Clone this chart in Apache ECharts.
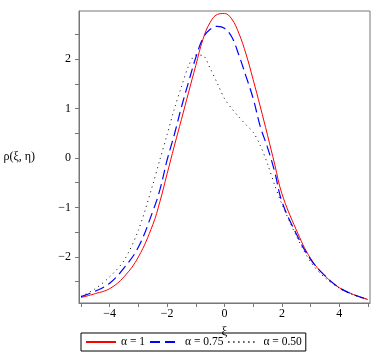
<!DOCTYPE html>
<html>
<head>
<meta charset="utf-8">
<script src="https://cdn.jsdelivr.net/npm/echarts@6/dist/echarts.min.js"></script>
<style>
  html, body { margin: 0; padding: 0; background: #fff; }
  #chart { width: 389px; height: 360px; }
</style>
</head>
<body>
<div id="chart"></div>
<script>
// xi grid shared by all three curves
var xiValues = [-5, -4.5, -4, -3.5, -3, -2.5, -2.25, -2, -1.75, -1.5, -1.25, -1, -0.75, -0.5, -0.25,
                0, 0.25, 0.5, 0.75, 1, 1.25, 1.5, 1.75, 2, 2.5, 3, 3.5, 4, 4.5, 5];
var rhoAlpha100 = [-2.82, -2.74, -2.64, -2.40, -2.00, -1.35, -0.88, -0.32, 0.24, 0.78, 1.33, 1.87, 2.40, 2.74, 2.90,
                   2.92, 2.81, 2.52, 2.10, 1.58, 1.03, 0.46, -0.13, -0.72, -1.45, -2.03, -2.38, -2.62, -2.76, -2.86];
var rhoAlpha075 = [-2.80, -2.69, -2.53, -2.22, -1.80, -1.08, -0.64, -0.04, 0.47, 1.03, 1.54, 2.03, 2.42, 2.60, 2.66,
                   2.62, 2.45, 2.08, 1.65, 1.20, 0.63, 0.21, -0.28, -0.88, -1.53, -2.05, -2.38, -2.62, -2.76, -2.86];
var rhoAlpha050 = [-2.80, -2.64, -2.40, -2.07, -1.46, -0.54, -0.03, 0.47, 0.99, 1.44, 1.86, 2.08, 2.07, 1.81, 1.51,
                   1.20, 1.00, 0.83, 0.67, 0.52, 0.25, -0.12, -0.55, -0.93, -1.57, -2.10, -2.42, -2.63, -2.77, -2.86];

var xTickValues = [-5, -4, -3, -2, -1, 0, 1, 2, 3, 4, 5];
var xLabelValues = [-4, -2, 0, 2, 4];
var yTickValues = [-2.5, -2, -1.5, -1, -0.5, 0, 0.5, 1, 1.5, 2, 2.5];
var yLabelValues = [-2, -1, 0, 1, 2];

function pairs(xs, ys) {
    var out = [];
    for (var i = 0; i < xs.length; i++) {
        out.push([xs[i], ys[i]]);
    }
    return out;
}

function minusLabel(v) {
    return v < 0 ? "\u2212" + (-v) : "" + v;
}

var FONT = "Liberation Serif";
var AXIS_COLOR = "#777777";

var chart = echarts.init(document.getElementById("chart"));
var option = {
    animation: false,
    backgroundColor: "#ffffff",
    textStyle: { fontFamily: FONT },
    grid: {
        left: 79,
        right: 19,
        top: 11,
        bottom: 57,
        show: true,
        borderColor: AXIS_COLOR,
        borderWidth: 1
    },
    legend: {
        left: 81,
        top: 333,
        orient: "horizontal",
        itemWidth: 30,
        itemHeight: 10,
        itemGap: 4,
        padding: [3, 4, 3, 4],
        borderColor: "#000000",
        borderWidth: 1,
        itemStyle: { opacity: 0 },
        textStyle: { fontFamily: FONT, fontSize: 11.5, color: "#000" },
        data: ["\u03b1 = 1", "\u03b1 = 0.75", "\u03b1 = 0.50"]
    },
    xAxis: {
        type: "value",
        min: -5.07,
        max: 5.07,
        name: "\u03be",
        nameLocation: "middle",
        nameGap: 21,
        nameTextStyle: { fontFamily: FONT, fontSize: 13, color: "#000" },
        axisLine: { show: true, onZero: false, lineStyle: { color: AXIS_COLOR } },
        axisTick: { show: true, length: 4, customValues: xTickValues, lineStyle: { color: AXIS_COLOR } },
        axisLabel: { customValues: xLabelValues, color: "#000", fontFamily: FONT, fontSize: 12, margin: 5,
                     formatter: minusLabel },
        splitLine: { show: false }
    },
    yAxis: {
        type: "value",
        min: -2.93,
        max: 2.97,
        name: "\u03c1(\u03be, \u03b7)",
        nameLocation: "middle",
        nameRotate: 0,
        nameGap: 44,
        nameTextStyle: { fontFamily: FONT, fontSize: 12, color: "#000" },
        axisLine: { show: true, onZero: false, lineStyle: { color: AXIS_COLOR } },
        axisTick: { show: true, length: 4, customValues: yTickValues, lineStyle: { color: AXIS_COLOR } },
        axisLabel: { customValues: yLabelValues, color: "#000", fontFamily: FONT, fontSize: 12, margin: 8,
                     formatter: minusLabel },
        splitLine: { show: false }
    },
    series: [
        {
            name: "\u03b1 = 1",
            type: "line",
            smooth: 0.4,
            symbol: "none",
            data: pairs(xiValues, rhoAlpha100),
            lineStyle: { color: "#ff0000", width: 1 },
            itemStyle: { color: "#ff0000" }
        },
        {
            name: "\u03b1 = 0.75",
            type: "line",
            smooth: 0.4,
            symbol: "none",
            data: pairs(xiValues, rhoAlpha075),
            lineStyle: { color: "#0000ff", width: 1.2, type: [10, 5] },
            itemStyle: { color: "#0000ff" }
        },
        {
            name: "\u03b1 = 0.50",
            type: "line",
            smooth: 0.3,
            symbol: "none",
            data: pairs(xiValues, rhoAlpha050),
            lineStyle: { color: "#000000", width: 1, type: [1, 4] },
            itemStyle: { color: "#000000" }
        }
    ]
};
chart.setOption(option);
</script>
</body>
</html>
